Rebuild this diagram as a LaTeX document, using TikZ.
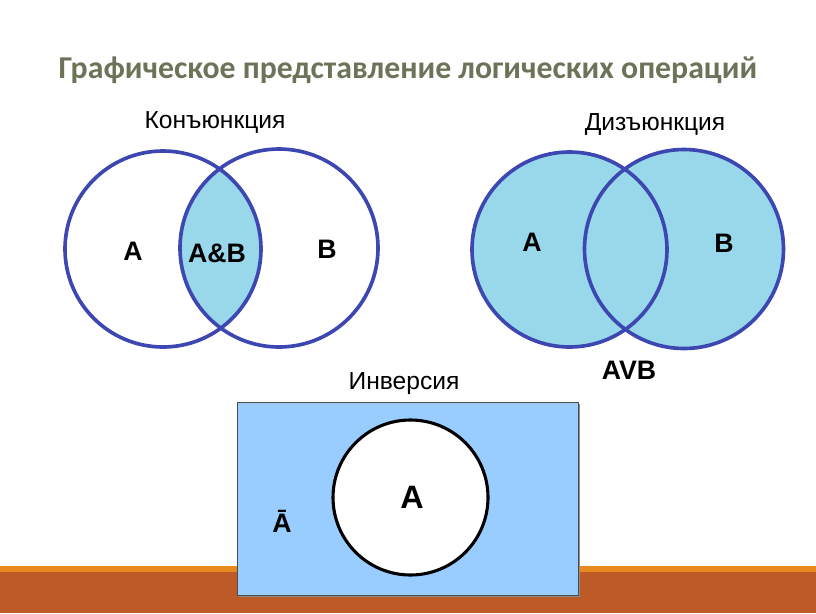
\documentclass[tikz,border=0pt]{standalone}
\usepackage{fontspec}
\setmainfont{Liberation Sans}
\newfontfamily\titlefont{Carlito}
\definecolor{ringblue}{HTML}{3D47B2}
\definecolor{vennfill}{HTML}{99D8EA}
\definecolor{invfill}{HTML}{99CCFF}
\definecolor{titlegreen}{HTML}{6B7458}
\definecolor{stripbrown}{HTML}{BD5A28}
\definecolor{striporange}{HTML}{E8891E}
\tikzset{
  ring/.style={draw=ringblue,line width=2.6pt},
  setlabel/.style={font=\bfseries\fontsize{19}{22}\selectfont},
  caption/.style={font=\fontsize{17.5}{20}\selectfont}
}
\begin{document}
\begin{tikzpicture}[x=0.025cm,y=-0.025cm]
            \useasboundingbox (0,0) rectangle (816,613);
            \fill[stripbrown] (0,571) rectangle (816,613);
            \fill[striporange] (0,566) rectangle (816,572);

            \node[text=titlegreen,font=\titlefont\bfseries\fontsize{22.6}{26}\selectfont] (title) at (408,70) {Графическое представление логических операций};

            \node[caption] (conj) at (215,122) {Конъюнкция};
            \node[caption] (disj) at (655,124) {Дизъюнкция};
            \node[caption] (inv) at (404,384) {Инверсия};

            \begin{scope}
                \clip (163,249) circle (98);
                \fill[vennfill] (279,248) circle (99);
            \end{scope}
            \draw[ring] (163,249) circle (98);
            \draw[ring] (279,248) circle (99);

            \fill[vennfill] (569.5,249.5) circle (97.5);
            \fill[vennfill] (684,249) circle (99.5);
            \draw[ring] (569.5,249.5) circle (97.5);
            \draw[ring] (684,249) circle (99.5);

            \node[setlabel] (ca) at (133,251) {A};
            \node[setlabel] (cab) at (217,253) {A\&B};
            \node[setlabel] (cb) at (327,249) {B};

            \node[setlabel] (da) at (532,242) {A};
            \node[setlabel] (db) at (724,243) {B};
            \node[setlabel] (dab) at (629,370) {AVB};

            \fill[black!45] (239,404) rectangle (579.5,596.5);
            \draw[fill=invfill,draw=black!70,line width=0.6pt] (237,402) rectangle (578,595);
            \draw[fill=white,line width=2.2pt] (410.5,497.5) circle (77.5);

            \node[setlabel,font=\bfseries\fontsize{23}{26}\selectfont] (ia) at (412,497) {A};
            \node[setlabel] (inota) at (282,521) {Ā};
    \end{tikzpicture}
\end{document}
